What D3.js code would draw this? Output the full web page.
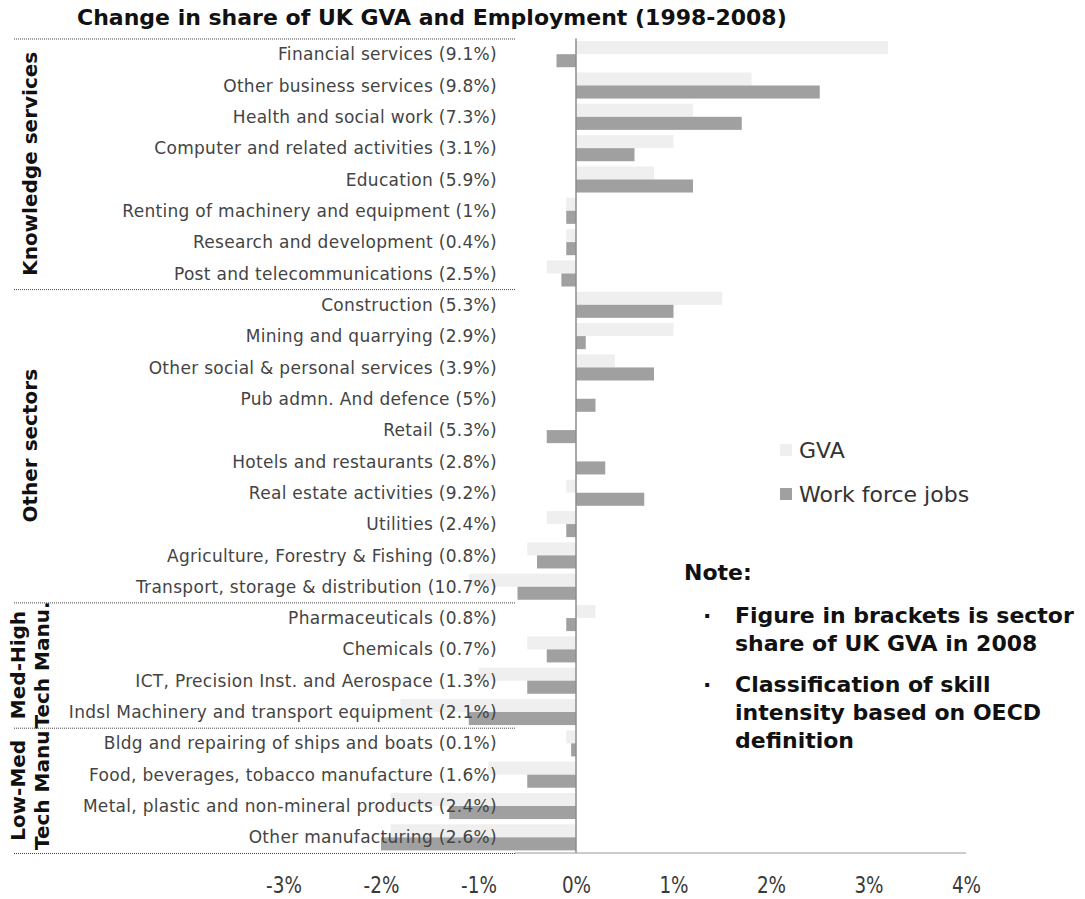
<!DOCTYPE html>
<html>
<head>
<meta charset="utf-8">
<script src="https://cdn.jsdelivr.net/npm/d3@7"></script>
<style>
  html, body { margin: 0; padding: 0; background: #fff; }
  svg { display: block; }
</style>
</head>
<body>
<svg id="chart" width="1085" height="899"></svg>
<script>
// Sectors, top to bottom; bracketed figure is the sector's share of UK GVA in 2008
const categories = [
  "Financial services (9.1%)",
  "Other business services (9.8%)",
  "Health and social work (7.3%)",
  "Computer and related activities (3.1%)",
  "Education (5.9%)",
  "Renting of machinery and equipment (1%)",
  "Research and development (0.4%)",
  "Post and telecommunications (2.5%)",
  "Construction (5.3%)",
  "Mining and quarrying (2.9%)",
  "Other social & personal services (3.9%)",
  "Pub admn. And defence (5%)",
  "Retail (5.3%)",
  "Hotels and restaurants (2.8%)",
  "Real estate activities (9.2%)",
  "Utilities (2.4%)",
  "Agriculture, Forestry & Fishing (0.8%)",
  "Transport, storage & distribution (10.7%)",
  "Pharmaceuticals (0.8%)",
  "Chemicals (0.7%)",
  "ICT, Precision Inst. and Aerospace (1.3%)",
  "Indsl Machinery and transport equipment (2.1%)",
  "Bldg and repairing of ships and boats (0.1%)",
  "Food, beverages, tobacco manufacture (1.6%)",
  "Metal, plastic and non-mineral products (2.4%)",
  "Other manufacturing (2.6%)"
];

// Change in share, percentage points, 1998-2008
const gvaChange = [3.2, 1.8, 1.2, 1.0, 0.8, -0.1, -0.1, -0.3,
                   1.5, 1.0, 0.4, 0.0, 0.0, 0.0, -0.1, -0.3, -0.5, -1.1,
                   0.2, -0.5, -1.0, -1.8,
                   -0.1, -0.9, -1.9, -1.9];
const jobsChange = [-0.2, 2.5, 1.7, 0.6, 1.2, -0.1, -0.1, -0.15,
                    1.0, 0.1, 0.8, 0.2, -0.3, 0.3, 0.7, -0.1, -0.4, -0.6,
                    -0.1, -0.3, -0.5, -1.1,
                    -0.05, -0.5, -1.3, -2.0];

// Skill-intensity groups (label lines and number of sectors in each)
const groupLabels = [["Knowledge services"], ["Other sectors"], ["Med-High", "Tech Manu."], ["Low-Med", "Tech Manu"]];
const groupSizes = [8, 10, 4, 4];

const tickValues = [-3, -2, -1, 0, 1, 2, 3, 4];
const seriesNames = ["GVA", "Work force jobs"];
const seriesColors = ["#efefef", "#a0a0a0"];

const noteTitle = "Note:";
const noteItems = [
  ["Figure in brackets is sector", "share of UK GVA in 2008"],
  ["Classification of skill", "intensity based on OECD", "definition"]
];

const svg = d3.select("#chart");
const font = "'DejaVu Sans', Verdana, sans-serif";

const x = d3.scaleLinear().domain([-3, 4]).range([283.5, 966]);
const y = d3.scaleBand().domain(categories).range([38.5, 853]).padding(0);
const inner = d3.scaleBand().domain(seriesNames).range([0, y.bandwidth()]).paddingOuter(0.2);

const labelRight = 497;
const sepLeft = 14, sepRight = 515;

// Title
svg.append("text")
  .attr("x", 77).attr("y", 25)
  .attr("font-family", font).attr("font-weight", "bold").attr("font-size", 22)
  .attr("fill", "#111")
  .text("Change in share of UK GVA and Employment (1998-2008)");

const rows = categories.map((c, i) => ({ c, values: [gvaChange[i], jobsChange[i]] }));

// Bars
const rowG = svg.append("g").selectAll("g").data(rows).join("g")
  .attr("transform", d => `translate(0,${y(d.c)})`);
rowG.selectAll("rect")
  .data(d => d.values.map((v, k) => ({ v, k })))
  .join("rect")
  .attr("x", d => x(Math.min(0, d.v)))
  .attr("width", d => Math.abs(x(d.v) - x(0)))
  .attr("y", d => inner(seriesNames[d.k]))
  .attr("height", inner.bandwidth())
  .attr("fill", d => seriesColors[d.k]);

// Zero line
svg.append("line")
  .attr("x1", x(0)).attr("x2", x(0))
  .attr("y1", y.range()[0]).attr("y2", y.range()[1])
  .attr("stroke", "#8c8c8c").attr("stroke-width", 1.5);

// Bottom axis line
svg.append("line")
  .attr("x1", sepRight).attr("x2", x(4))
  .attr("y1", y.range()[1]).attr("y2", y.range()[1])
  .attr("stroke", "#999").attr("stroke-width", 1.2);

// Category labels (drawn over the bars)
svg.append("g").selectAll("text").data(categories).join("text")
  .attr("x", labelRight)
  .attr("y", d => y(d) + y.bandwidth() / 2)
  .attr("dy", "0.36em")
  .attr("text-anchor", "end")
  .attr("font-family", font).attr("font-size", 17)
  .attr("letter-spacing", 0.3)
  .attr("fill", "#444")
  .text(d => d);

// Group separators and rotated group labels
let start = 0;
const boundaries = [0];
groupSizes.forEach(n => { start += n; boundaries.push(start); });
const sepY = i => (i < categories.length ? y(categories[i]) : y.range()[1]);

svg.append("g").selectAll("line").data(boundaries).join("line")
  .attr("x1", sepLeft).attr("x2", sepRight)
  .attr("y1", d => sepY(d) + 0.5).attr("y2", d => sepY(d) + 0.5)
  .attr("stroke", "#444").attr("stroke-width", 1)
  .attr("stroke-dasharray", "1,1");

groupLabels.forEach((lines, g) => {
  const cy = (sepY(boundaries[g]) + sepY(boundaries[g + 1])) / 2;
  const lineXs = lines.length === 1 ? [30] : [18, 42];
  lines.forEach((t, j) => {
    svg.append("text")
      .attr("transform", `translate(${lineXs[j]},${cy}) rotate(-90)`)
      .attr("text-anchor", "middle")
      .attr("dy", "0.36em")
      .attr("font-family", font).attr("font-weight", "bold").attr("font-size", 20)
      .attr("fill", "#111")
      .text(t);
  });
});

// X axis tick labels (narrow face: horizontally compressed glyphs)
const axis = svg.append("g")
  .attr("transform", `translate(0,${y.range()[1]})`)
  .call(d3.axisBottom(x).tickValues(tickValues).tickFormat(d => d + "%").tickSize(0).tickPadding(24));
axis.select(".domain").remove();
axis.selectAll("text")
  .attr("font-family", font)
  .attr("font-size", 23)
  .attr("transform", "scale(0.8,1)")
  .attr("fill", "#3a3a3a");

// Legend
const legend = svg.append("g").attr("transform", "translate(780,444)");
seriesNames.forEach((s, i) => {
  legend.append("rect")
    .attr("x", 0).attr("y", i * 44)
    .attr("width", 12).attr("height", 12)
    .attr("fill", seriesColors[i]);
  legend.append("text")
    .attr("x", 19).attr("y", i * 44 + 6).attr("dy", "0.36em")
    .attr("font-family", font).attr("font-size", 22)
    .attr("fill", "#333")
    .text(s);
});

// Note
svg.append("text")
  .attr("x", 684).attr("y", 580)
  .attr("font-family", font).attr("font-weight", "bold").attr("font-size", 22)
  .attr("fill", "#111").text(noteTitle);

const itemTops = [623, 692];
noteItems.forEach((lines, i) => {
  svg.append("text")
    .attr("x", 703).attr("y", itemTops[i])
    .attr("font-family", font).attr("font-weight", "bold").attr("font-size", 22)
    .attr("fill", "#111").text("·");
  lines.forEach((t, j) => {
    svg.append("text")
      .attr("x", 735).attr("y", itemTops[i] + j * 28)
      .attr("font-family", font).attr("font-weight", "bold").attr("font-size", 22)
      .attr("fill", "#111").text(t);
  });
});
</script>
</body>
</html>
